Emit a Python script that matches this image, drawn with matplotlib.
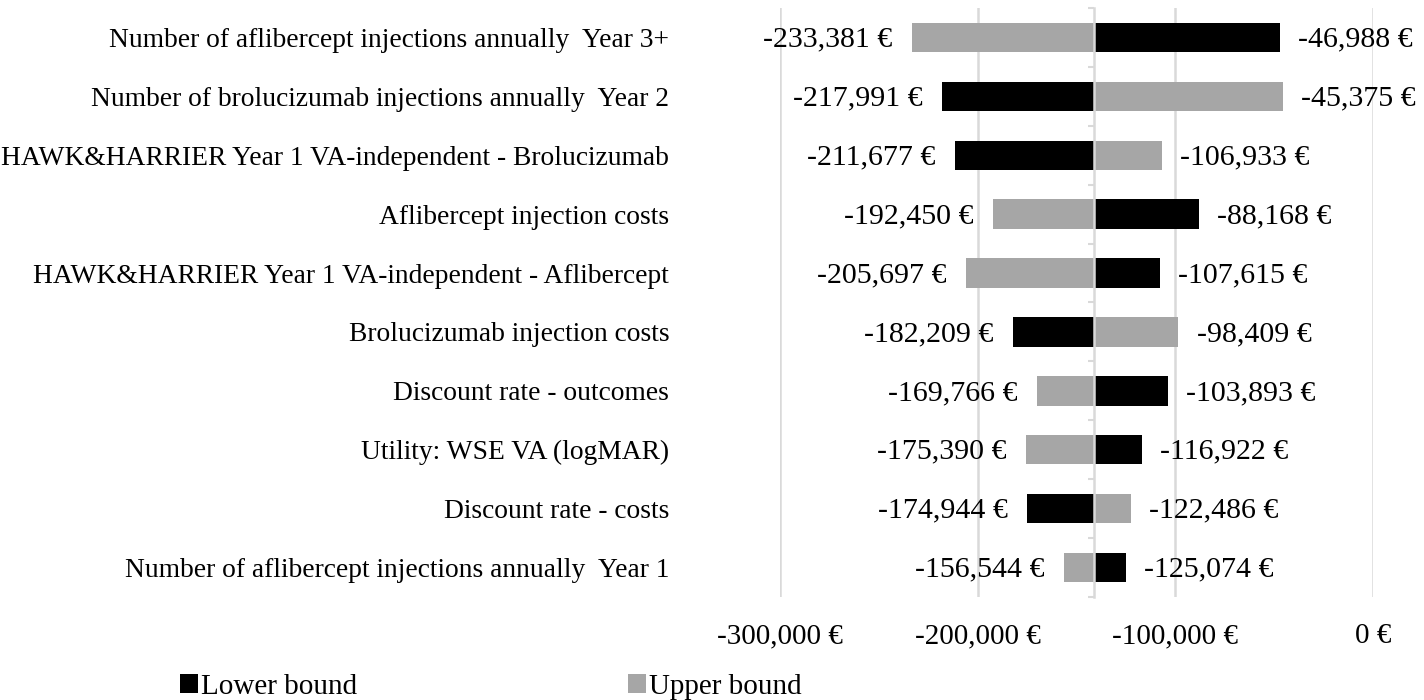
import matplotlib.pyplot as plt
from matplotlib.patches import Patch
from matplotlib.ticker import FixedLocator

plt.rcParams['font.family'] = ['Liberation Serif', 'DejaVu Serif']

parametros = [
    "Number of aflibercept injections annually  Year 3+",
    "Number of brolucizumab injections annually  Year 2",
    "HAWK&HARRIER Year 1 VA-independent - Brolucizumab",
    "Aflibercept injection costs",
    "HAWK&HARRIER Year 1 VA-independent - Aflibercept",
    "Brolucizumab injection costs",
    "Discount rate - outcomes",
    "Utility: WSE VA (logMAR)",
    "Discount rate - costs",
    "Number of aflibercept injections annually  Year 1",
]
lower_bound = [-46988, -217991, -211677, -88168, -107615,
               -182209, -103893, -116922, -174944, -125074]
upper_bound = [-233381, -45375, -106933, -192450, -205697,
               -98409, -169766, -175390, -122486, -156544]
base_case = -141000

x_ticks = [-300000, -200000, -100000, 0]

PRETO = '#000000'
CINZA = '#a6a6a6'
GRADE = '#d9d9d9'
FS = 21


def format_eur(valor: float) -> str:
    return f"{valor:,.0f} €"


def tornado_chart(ax):
    y = list(range(len(parametros)))

    for serie, cor in ((lower_bound, PRETO), (upper_bound, CINZA)):
        larguras = [v - base_case for v in serie]
        ax.barh(y, larguras, left=base_case, height=0.5, color=cor, zorder=3)

    # rotulos de valor fora da ponta de cada barra
    for i in y:
        for v in (lower_bound[i], upper_bound[i]):
            if v < base_case:
                ax.annotate(format_eur(v), (v, i), xytext=(-14, -1.5), textcoords='offset points',
                            ha='right', va='center', fontsize=21.5)
            else:
                ax.annotate(format_eur(v), (v, i), xytext=(13, -1.5), textcoords='offset points',
                            ha='left', va='center', fontsize=21.5)

    ax.set_xlim(-300000, 0)
    ax.set_ylim(len(parametros) - 0.5, -0.5)

    ax.set_xticks(x_ticks)
    ax.set_xticklabels([format_eur(v) for v in x_ticks], fontsize=FS)
    ax.tick_params(axis='x', length=0, pad=19)
    ax.grid(axis='x', color=GRADE, linewidth=1.8, zorder=0)

    for lado in ('top', 'right', 'bottom'):
        ax.spines[lado].set_visible(False)
    ax.spines['left'].set_position(('data', base_case))
    ax.spines['left'].set_color(GRADE)
    ax.spines['left'].set_linewidth(1.8)
    ax.spines['left'].set_zorder(4)

    ax.set_yticks(y)
    ax.set_yticklabels(parametros, fontsize=19.8)
    ax.yaxis.set_minor_locator(FixedLocator([i - 0.5 for i in range(len(parametros) + 1)]))
    ax.tick_params(axis='y', which='major', length=0, pad=306)
    ax.tick_params(axis='y', which='minor', length=4.5, width=1.5, color=GRADE, direction='out')


fig = plt.figure(figsize=(14.24, 7), dpi=100)
ax = fig.add_axes([780 / 1424, 1 - 597 / 700, (1373 - 780) / 1424, (597 - 8) / 700])
tornado_chart(ax)

handles = [Patch(facecolor=PRETO, label='Lower bound'), Patch(facecolor=CINZA, label='Upper bound')]
fig.legend(handles=handles, loc='center', bbox_to_anchor=(491 / 1424, 1 - 687 / 700), ncol=2,
           frameon=False, fontsize=FS, handlelength=0.62, handleheight=0.6, handletextpad=0.1,
           columnspacing=9.3, borderaxespad=0)

fig.savefig('out.png', dpi=100)
